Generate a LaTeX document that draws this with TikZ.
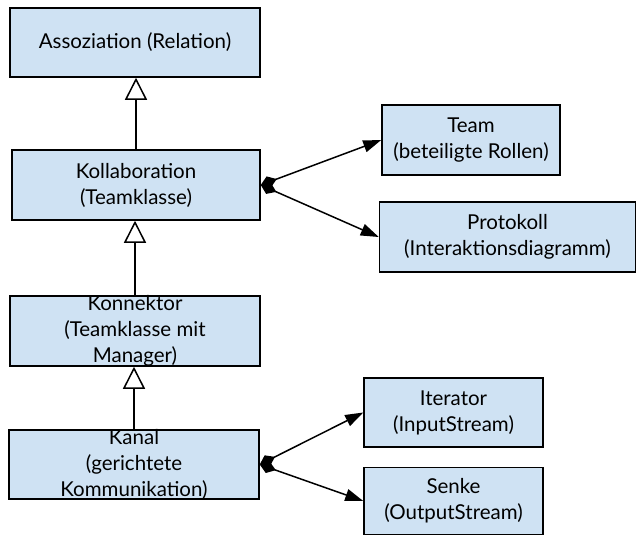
\documentclass[tikz,border=0pt]{standalone}
\usepackage{fontspec}
\setmainfont{Lato}
\usetikzlibrary{
    arrows.meta
}
\definecolor{boxblue}{RGB}{207,226,243}
\tikzset {
    box/.style = {draw, fill = boxblue, line width = 1.5pt, inner sep = 0pt,
        align = center, font = \fontsize{20.5}{26}\selectfont},
    boxtext/.style = {align = center, inner sep = 0pt,
        font = \fontsize{20.5}{26}\selectfont},
    inherit/.style = {line width = 1.5pt,
        -{Triangle[open, length = 22pt, width = 22pt, line width = 1.5pt]}},
    compose/.style = {line width = 1.5pt,
        {Diamond[length = 17pt, width = 12pt]}-{Triangle[length = 18pt, width = 12pt]}}
}

\begin{document}
\begin{tikzpicture}[x = 1pt, y = -1pt]
            \useasboundingbox (0, 0) rectangle (637, 536);
            % left column
            \node (assoz) [box, minimum width = 250pt, minimum height = 69pt] at (135, 42.5)
                {Assoziation (Relation)};
            \node (kollab) [box, minimum width = 248pt, minimum height = 70pt] at (136, 185)
                {Kollaboration\\(Teamklasse)};
            \node (konn) [box, minimum width = 250pt, minimum height = 70pt, 
                label = {[boxtext]center:Konnektor\\(Teamklasse mit\\Manager)}] at (135, 331) {};
            \node (kanal) [box, minimum width = 250pt, minimum height = 69pt,
                label = {[boxtext]center:Kanal\\(gerichtete\\Kommunikation)}] at (134, 464.5) {};
            % right column
            \node (team) [box, minimum width = 178pt, minimum height = 70pt] at (471, 140)
                {Team\\(beteiligte Rollen)};
            \node (proto) [box, minimum width = 256pt, minimum height = 70pt] at (507.5, 237)
                {Protokoll\\(Interaktionsdiagramm)};
            \node (iter) [box, minimum width = 179pt, minimum height = 69pt] at (453.5, 412.5)
                {Iterator\\(InputStream)};
            \node (senke) [box, minimum width = 179pt, minimum height = 67pt] at (453.5, 501)
                {Senke\\(OutputStream)};
            % connectors
            \draw [inherit] (kollab.north) -- (kollab.north |- assoz.south);
            \draw [inherit] (konn.north) -- (konn.north |- kollab.south);
            \draw [inherit] (kanal.north) -- (kanal.north |- konn.south);
            \draw [compose] (kollab.east) -- (team.west);
            \draw [compose] (kollab.east) -- (proto.west);
            \draw [compose] (kanal.east) -- (iter.west);
            \draw [compose] (kanal.east) -- (senke.west);
        \end{tikzpicture}
\end{document}
